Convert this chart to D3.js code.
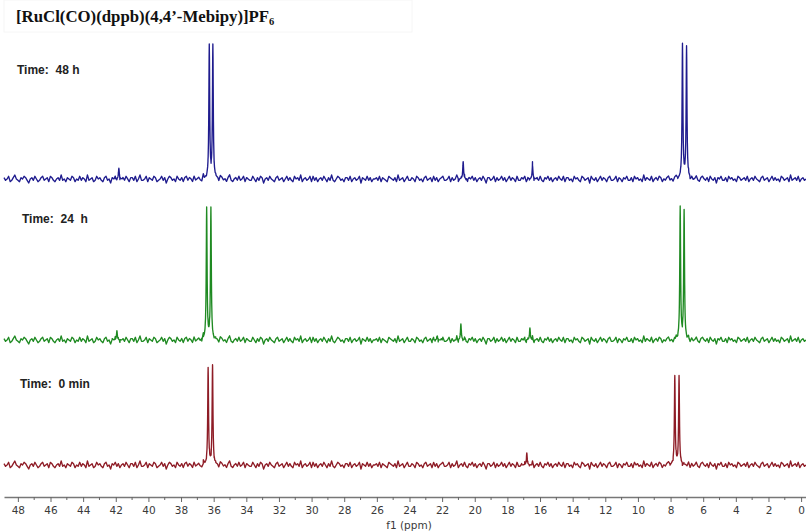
<!DOCTYPE html>
<html>
<head>
<meta charset="utf-8">
<script src="https://cdn.jsdelivr.net/npm/d3@7"></script>
<style>
  body { margin: 0; background: #fff; }
  svg { display: block; }
</style>
</head>
<body>
<svg class="svg-main" width="806" height="531"></svg>
<script>
// peak positions (ppm) and heights (tallest line = 100)
const peaks48h = [
  { ppm: 36.27, h: 99 }, { ppm: 36.05, h: 99 },
  { ppm: 7.27, h: 100 }, { ppm: 7.02, h: 98 },
  { ppm: 41.81, h: 8 }, { ppm: 20.71, h: 13 }, { ppm: 16.46, h: 10 }
];
const peaks24h = [
  { ppm: 36.43, h: 98 }, { ppm: 36.17, h: 98 },
  { ppm: 7.41, h: 98.5 }, { ppm: 7.17, h: 96 },
  { ppm: 41.93, h: 7 }, { ppm: 20.85, h: 12 }, { ppm: 16.62, h: 9 },
  { ppm: 22.3, h: 3 }
];
const peaks0min = [
  { ppm: 36.34, h: 72 }, { ppm: 36.07, h: 74 },
  { ppm: 7.74, h: 66 }, { ppm: 7.48, h: 66 },
  { ppm: 16.81, h: 9 }
];

// baseline noise, estimated by eye (same units as heights)
const baselineNoise = [
  1,-1,0,2,-2,-1,1,3,0,-1,-2,1,0,2,1,-1,-3,0,1,-1,2,0,-2,-1,1,2,-1,0,1,-2,2,1,-1,-2,0,1,-1,3,-1,0,
  -2,1,0,-1,2,1,-2,0,-1,2,-1,1,0,-2,3,-1,0,1,-2,-1,2,0,1,-1,-2,1,2,-1,0,-3,1,0,2,-1,1,-2,0,1,-1,2,
  0,-2,1,1,-1,2,-2,0,3,-1,-1,0,2,-2,1,0,-1,2,1,-2,-1,0,2,-1,1,-3,0,2,1,-1,0,-2,2,0,-1,1,-2,1,2,-1,
  1,0,-2,2,-1,0,1,-1,-2,3,0,-1,1,2,-2,0,-1,1,0,-2,2,1,-1,0,-2,1,3,-1,-2,0,1,-1,2,-1,0,2,-2,1,0,-1,
  -1,2,0,-2,1,-1,2,1,-3,0,1,-1,2,0,-1,-2,1,2,-1,0,1,-2,0,2,-1,1,-1,-2,2,0,1,-1,3,-2,0,1,-1,0,2,-2,
  2,-1,1,-2,0,1,-1,2,0,-2,1,-1,3,-1,-2,0,2,1,-1,0,-2,1,1,-1,2,-2,0,1,-1,0,2,-3,1,0,-1,2,-1,1,-2,0,
  0,1,-1,2,-2,1,0,-1,-2,2,1,0,-1,1,-2,3,-1,0,1,-2,0,2,-1,-1,1,0,-2,2,1,-1,0,-2,1,2,-1,0,1,-2,2,-1,
  1,-2,0,1,2,-1,-1,0,2,-2,1,-1,0,3,-2,0,1,-1,2,-1,-2,1,0,2,-1,1,-2,0,1,-1,2,0,-3,1,1,-1,0,2,-2,1,
  -1,0,2,-1,1,-2,0,2,-1,1,0,-2,2,-1,-1,1,0,2,-2,1,-1,0,3,-2,0,1,-1,2,-1,-2,1,0,2,-1,1,-2,0,1,-1,2,
  0,-1,2,-2,1,1,-1,0,-2,2,0,1,-1,-2,2,1,-1,0,1,-3,2,0,-1,1,-2,0,2,-1,1,0,-2,1,2,-1,-1,0,2,-2,1,0,
  -2,1,0,2,-1,-1,1,-2,2,0,1,-1,0,-2,3,-1,1,0,-1,2,-2,0,1,-1,2,1,-2,0,-1,1,2,-1,0,-2,1,2,-1,0,1,-2,
  1,0,-1,2,-2,1,-1,0,2,-1,-2,1,2,0,-1,1,-2,2,0,-1,1,-3,1,0,2,-1,-1,1,-2,2,0,1,-1,0,-2,2,1,-1,0,1,
  -1,2,-2,0,1,-1,2,0,-1,-2,1,2,-1,0,1,-2,0,2,-1,1,-1,0,-2,2,1,-1,0,1,-2,3,-1,0,1,-1,2,-2,0,1,-1,0
];

const spectra = [
  { label: "Time:  48 h", peaks: peaks48h, color: "#1f1c8e", base: 179, lx: 17, ly: 74 },
  { label: "Time:  24  h", peaks: peaks24h, color: "#1f8a22", base: 340, lx: 22, ly: 223 },
  { label: "Time:  0 min", peaks: peaks0min, color: "#8e1c26", base: 465, lx: 20, ly: 388 }
];

const majorTicks = d3.range(0, 49, 2);
const minorTicks = d3.range(1, 49, 2);

const svg = d3.select(".svg-main");

const x = d3.scaleLinear().domain([48.85, -0.3]).range([4, 806]);
// intensity -> pixel height
const h = d3.scaleLinear().domain([0, 100]).range([0, 134]);

// line half-width (ppm) used to draw each resonance
const gamma = 0.03;
const offsets = [-0.3, -0.2, -0.14, -0.1, -0.07, -0.05, -0.035, -0.02, -0.01, 0,
  0.01, 0.02, 0.035, 0.05, 0.07, 0.1, 0.14, 0.2, 0.3];

function buildTrace(peaks) {
  const lineShape = (p) => d3.sum(peaks, (k) => k.h * gamma * gamma / ((p - k.ppm) ** 2 + gamma * gamma));
  const step = (x.domain()[0] - x.domain()[1]) / (baselineNoise.length - 1);
  const pts = baselineNoise.map((n, i) => {
    const p = x.domain()[0] - i * step;
    return [p, n + lineShape(p)];
  });
  peaks.forEach((k) => {
    offsets.forEach((o) => pts.push([k.ppm + o, lineShape(k.ppm + o)]));
  });
  return pts.sort((a, b) => b[0] - a[0]);
}

// faint frame round the title
svg.append("rect")
  .attr("x", 4).attr("y", 0).attr("width", 408).attr("height", 32)
  .attr("fill", "none").attr("stroke", "#f6f6f6");

svg.append("text")
  .attr("x", 16).attr("y", 22)
  .style("font-family", "'Liberation Serif', 'Times New Roman', serif")
  .style("font-weight", "bold")
  .style("font-size", "16.8px")
  .attr("fill", "#111")
  .text("[RuCl(CO)(dppb)(4,4’-Mebipy)]PF")
  .append("tspan")
    .attr("dy", 3)
    .style("font-size", "10.5px")
    .text("6");

spectra.forEach((s) => {
  const line = d3.line()
    .x((d) => x(d[0]))
    .y((d) => s.base - h(d[1]));

  svg.append("path")
    .datum(buildTrace(s.peaks))
    .attr("d", line)
    .attr("fill", "none")
    .attr("stroke", s.color)
    .attr("stroke-width", 1.35)
    .attr("stroke-linejoin", "round");

  svg.append("text")
    .attr("x", s.lx).attr("y", s.ly)
    .style("white-space", "pre")
    .style("font-family", "'Liberation Sans', Arial, sans-serif")
    .style("font-weight", "bold")
    .style("font-size", "12px")
    .attr("fill", "#222")
    .text(s.label);
});

// x axis
const axisY = 497;
const axis = svg.append("g")
  .attr("transform", `translate(0,${axisY})`)
  .call(d3.axisBottom(x)
    .tickValues(majorTicks)
    .tickSize(5)
    .tickSizeOuter(0)
    .tickFormat(d3.format("d")));

axis.select(".domain").attr("stroke", "#777").attr("stroke-width", 1.6);
axis.selectAll(".tick line").attr("stroke", "#666");
axis.selectAll(".tick text")
  .attr("y", 10)
  .style("font-family", "'DejaVu Sans', Verdana, sans-serif")
  .style("font-size", "10.5px")
  .attr("fill", "#3a3a3a");

svg.append("g")
  .selectAll("line")
  .data(minorTicks)
  .enter().append("line")
    .attr("x1", (d) => x(d)).attr("x2", (d) => x(d))
    .attr("y1", axisY).attr("y2", axisY + 3)
    .attr("stroke", "#666");

svg.append("text")
  .attr("x", 409).attr("y", 529)
  .attr("text-anchor", "middle")
  .style("font-family", "'DejaVu Sans', Verdana, sans-serif")
  .style("font-size", "10.5px")
  .attr("fill", "#3a3a3a")
  .text("f1 (ppm)");
</script>
</body>
</html>
